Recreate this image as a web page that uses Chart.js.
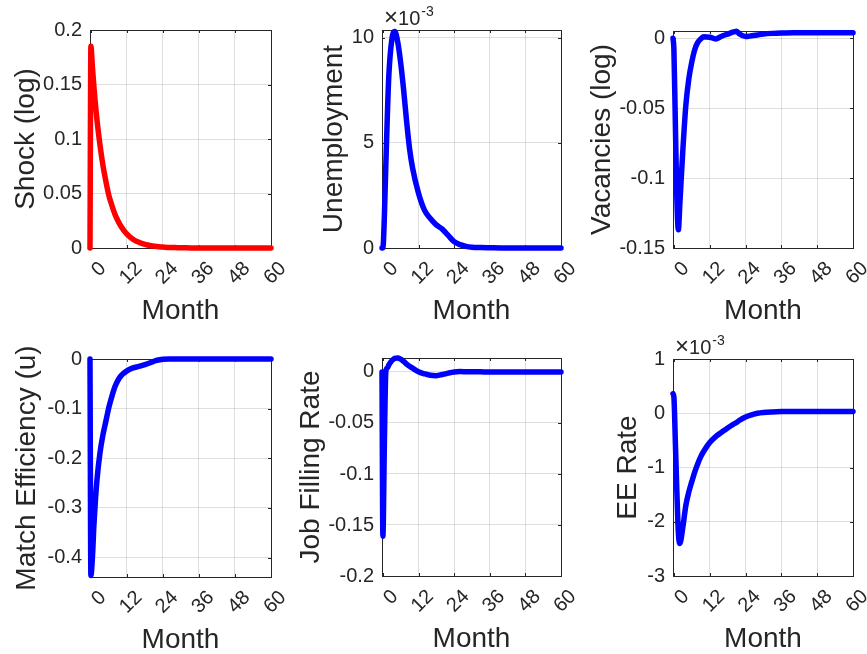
<!DOCTYPE html>
<html>
<head>
<meta charset="utf-8">
<script src="https://cdn.jsdelivr.net/npm/chart.js@4.4.1/dist/chart.umd.min.js"></script>
<style>
    body { margin: 0; background: #fff; width: 867px; height: 654px; overflow: hidden; position: relative; }
    canvas { position: absolute; }
</style>
</head>
<body>
<script>
// months after the shock (shared x values of every panel)
const months = [-0.3, 0, 0.5, 1, 1.5, 2, 3, 4, 5, 6, 7, 8, 9, 10, 12, 14, 16, 18, 20, 21, 22, 24, 26, 28, 30, 33, 36, 40, 44, 48, 52, 56, 60];
const xTicks = [0, 12, 24, 36, 48, 60];

// responses
const shock = [0, 0.185, 0.166, 0.148, 0.132, 0.118, 0.095, 0.076, 0.061, 0.048, 0.039, 0.031, 0.025, 0.020, 0.0127, 0.0081, 0.0052, 0.0033, 0.0021, 0.0017, 0.0013, 0.0009, 0.0005, 0.0004, 0.0002, 0.0001, 0, 0, 0, 0, 0, 0, 0];
const unemployment = [0, 0, 0.0015, 0.004, 0.0063, 0.0082, 0.0099, 0.0103, 0.0098, 0.0088, 0.0075, 0.006, 0.0047, 0.0038, 0.0026, 0.0018, 0.0014, 0.0011, 0.0009, 0.00075, 0.0006, 0.0003, 0.00016, 0.00008, 0.00004, 0.00002, 0.00001, 0, 0, 0, 0, 0, 0];
const vacancies = [0, -0.008, -0.062, -0.115, -0.137, -0.118, -0.080, -0.048, -0.029, -0.017, -0.008, -0.003, -0.0005, 0.001, 0.0008, -0.0005, 0.0015, 0.003, 0.0045, 0.005, 0.003, 0.0012, 0.0018, 0.0024, 0.003, 0.0035, 0.0038, 0.004, 0.004, 0.004, 0.004, 0.004, 0.004];
const matchEff = [0, -0.436, -0.40, -0.335, -0.285, -0.245, -0.19, -0.153, -0.125, -0.097, -0.075, -0.056, -0.043, -0.034, -0.024, -0.018, -0.015, -0.0115, -0.007, -0.0045, -0.0025, -0.0005, 0, 0, 0, 0, 0, 0, 0, 0, 0, 0, 0];
const jobFilling = [0, -0.161, -0.07, 0.001, 0.004, 0.007, 0.011, 0.0133, 0.0137, 0.0125, 0.0103, 0.0078, 0.0055, 0.0037, 0.0002, -0.0018, -0.0033, -0.0036, -0.0025, -0.0018, -0.0011, 0, 0.0004, 0.0003, 0.0002, 0.0001, 0, 0, 0, 0, 0, 0, 0];
const eeRate = [0.00036, 0.0003, -0.00055, -0.00145, -0.0022, -0.0024, -0.0021, -0.0017, -0.00145, -0.00126, -0.00108, -0.00093, -0.0008, -0.0007, -0.00054, -0.00043, -0.00035, -0.00027, -0.0002, -0.00017, -0.00013, -0.00007, -0.00003, 0, 0.000015, 0.000025, 0.00003, 0.00003, 0.00003, 0.00003, 0.00003, 0.00003, 0.00003];

// y tick values
const shockTicks = [0, 0.05, 0.1, 0.15, 0.2];
const unempTicks = [0, 0.005, 0.01];
const vacTicks = [-0.15, -0.1, -0.05, 0];
const matchTicks = [-0.4, -0.3, -0.2, -0.1, 0];
const jobTicks = [-0.2, -0.15, -0.1, -0.05, 0];
const eeTicks = [-0.003, -0.002, -0.001, 0, 0.001];

const font_name = "'Liberation Sans', Arial, Helvetica, sans-serif";
const ink = '#262626';
const grid_color = 'rgba(38,38,38,0.15)';

// one entry per subplot, plot area given in page pixels
const panels = [
    { label: 'Shock (log)', values: shock, ticks: shockTicks, ymin: 0, ymax: 0.2, color: '#ff0000', left: 90, top: 30, width: 181, height: 218, titlePad: 9 },
    { label: 'Unemployment', values: unemployment, ticks: unempTicks, ymin: 0, ymax: 0.01037, color: '#0000ff', left: 382, top: 30, width: 179, height: 218, titlePad: 25, exp: true },
    { label: 'Vacancies (log)', values: vacancies, ticks: vacTicks, ymin: -0.15, ymax: 0.0052, color: '#0000ff', left: 673, top: 31, width: 180, height: 217, titlePad: 2 },
    { label: 'Match Efficiency (u)', values: matchEff, ticks: matchTicks, ymin: -0.439, ymax: 0, color: '#0000ff', left: 90, top: 359, width: 181, height: 218, titlePad: 10 },
    { label: 'Job Filling Rate', values: jobFilling, ticks: jobTicks, ymin: -0.2, ymax: 0.0137, color: '#0000ff', left: 382, top: 358, width: 179, height: 218, titlePad: 2 },
    { label: 'EE Rate', values: eeRate, ticks: eeTicks, ymin: -0.003, ymax: 0.001, color: '#0000ff', left: 673, top: 359, width: 180, height: 217, titlePad: 28, exp: true }
];

// draws the matlab style box with inward ticks, and the x10^-3 note
const box_plugin = {
    id: 'matlab_box',
    beforeDatasetsDraw(chart) {
        const ctx = chart.ctx;
        const a = chart.chartArea;
        const xs = chart.scales.x, ys = chart.scales.y;
        ctx.save();
        ctx.strokeStyle = ink;
        ctx.lineWidth = 1;
        ctx.strokeRect(Math.round(a.left) + 0.5, Math.round(a.top) + 0.5, Math.round(a.right - a.left), Math.round(a.bottom - a.top));
        ctx.beginPath();
        xs.ticks.forEach(t => {
            let px = Math.round(xs.getPixelForValue(t.value)) + 0.5;
            ctx.moveTo(px, a.bottom); ctx.lineTo(px, a.bottom - 3);
            ctx.moveTo(px, a.top); ctx.lineTo(px, a.top + 3);
        });
        ys.ticks.forEach(t => {
            let py = Math.round(ys.getPixelForValue(t.value)) + 0.5;
            ctx.moveTo(a.left, py); ctx.lineTo(a.left + 3, py);
            ctx.moveTo(a.right, py); ctx.lineTo(a.right - 3, py);
        });
        ctx.stroke();
        ctx.restore();
    },
    afterDraw(chart) {
        if (!chart.options.plugins.matlab_box.exp) return;
        const ctx = chart.ctx;
        const a = chart.chartArea;
        ctx.save();
        ctx.fillStyle = ink;
        ctx.textBaseline = 'alphabetic';
        ctx.textAlign = 'left';
        let base = a.top - 5;
        ctx.font = '24px ' + font_name;
        ctx.fillText('\u00d7', a.left + 2, base);
        let wx = ctx.measureText('\u00d7').width;
        ctx.font = '20px ' + font_name;
        ctx.fillText('10', a.left + 2 + wx, base);
        let w10 = ctx.measureText('10').width;
        ctx.font = '14px ' + font_name;
        ctx.fillText('-3', a.left + 3 + wx + w10, base - 9);
        ctx.restore();
    }
};

function make_panel(p) {
    // canvas big enough for plot plus labels
    let canvas = document.createElement('canvas');
    canvas.width = 90 + p.width + 16;
    canvas.height = 30 + p.height + 85;
    canvas.style.left = (p.left - 90) + 'px';
    canvas.style.top = (p.top - 30) + 'px';
    document.body.appendChild(canvas);

    let points = months.map((m, i) => ({ x: m, y: p.values[i] }));
    let scaled = p.exp;

    new Chart(canvas, {
        type: 'scatter',
        data: {
            datasets: [{
                data: points,
                showLine: true,
                borderColor: p.color,
                backgroundColor: p.color,
                borderWidth: 5.5,
                borderCapStyle: 'round',
                borderJoinStyle: 'round',
                pointRadius: 0,
                cubicInterpolationMode: 'monotone',
                clip: false
            }]
        },
        options: {
            responsive: false,
            animation: false,
            devicePixelRatio: 1,
            layout: { padding: { left: 0, top: 30, right: 16, bottom: 0 } },
            plugins: {
                legend: { display: false },
                tooltip: { enabled: false },
                matlab_box: { exp: !!p.exp }
            },
            scales: {
                x: {
                    type: 'linear',
                    min: -0.3,
                    max: 60,
                    afterBuildTicks: s => { s.ticks = xTicks.map(v => ({ value: v })); },
                    // fixed height, no extra side padding so the plot box lands where we want
                    afterFit: s => { s.height = 85; s.paddingLeft = 0; s.paddingRight = 0; },
                    border: { display: false },
                    grid: { color: grid_color, drawTicks: false },
                    ticks: {
                        minRotation: 45, maxRotation: 45, padding: 9, labelOffset: 12,
                        color: ink, font: { family: font_name, size: 20 },
                        callback: v => String(v)
                    },
                    title: {
                        display: true, text: 'Month', color: ink,
                        font: { family: font_name, size: 28 },
                        padding: { top: 0, bottom: 5 }
                    }
                },
                y: {
                    type: 'linear',
                    min: p.ymin,
                    max: p.ymax,
                    afterBuildTicks: s => { s.ticks = p.ticks.map(v => ({ value: v })); },
                    afterFit: s => { s.width = 90; s.paddingTop = 0; s.paddingBottom = 0; },
                    border: { display: false },
                    grid: { color: grid_color, drawTicks: false },
                    ticks: {
                        padding: 8, color: ink,
                        font: { family: font_name, size: 20 },
                        callback: v => scaled ? String(Math.round(v * 1000)) : String(v)
                    },
                    title: {
                        display: true, text: p.label, color: ink,
                        font: { family: font_name, size: 28 },
                        padding: { top: p.titlePad, bottom: 0 }
                    }
                }
            }
        },
        plugins: [box_plugin]
    });
}

// build all six subplots
panels.forEach(make_panel);
</script>
</body>
</html>
